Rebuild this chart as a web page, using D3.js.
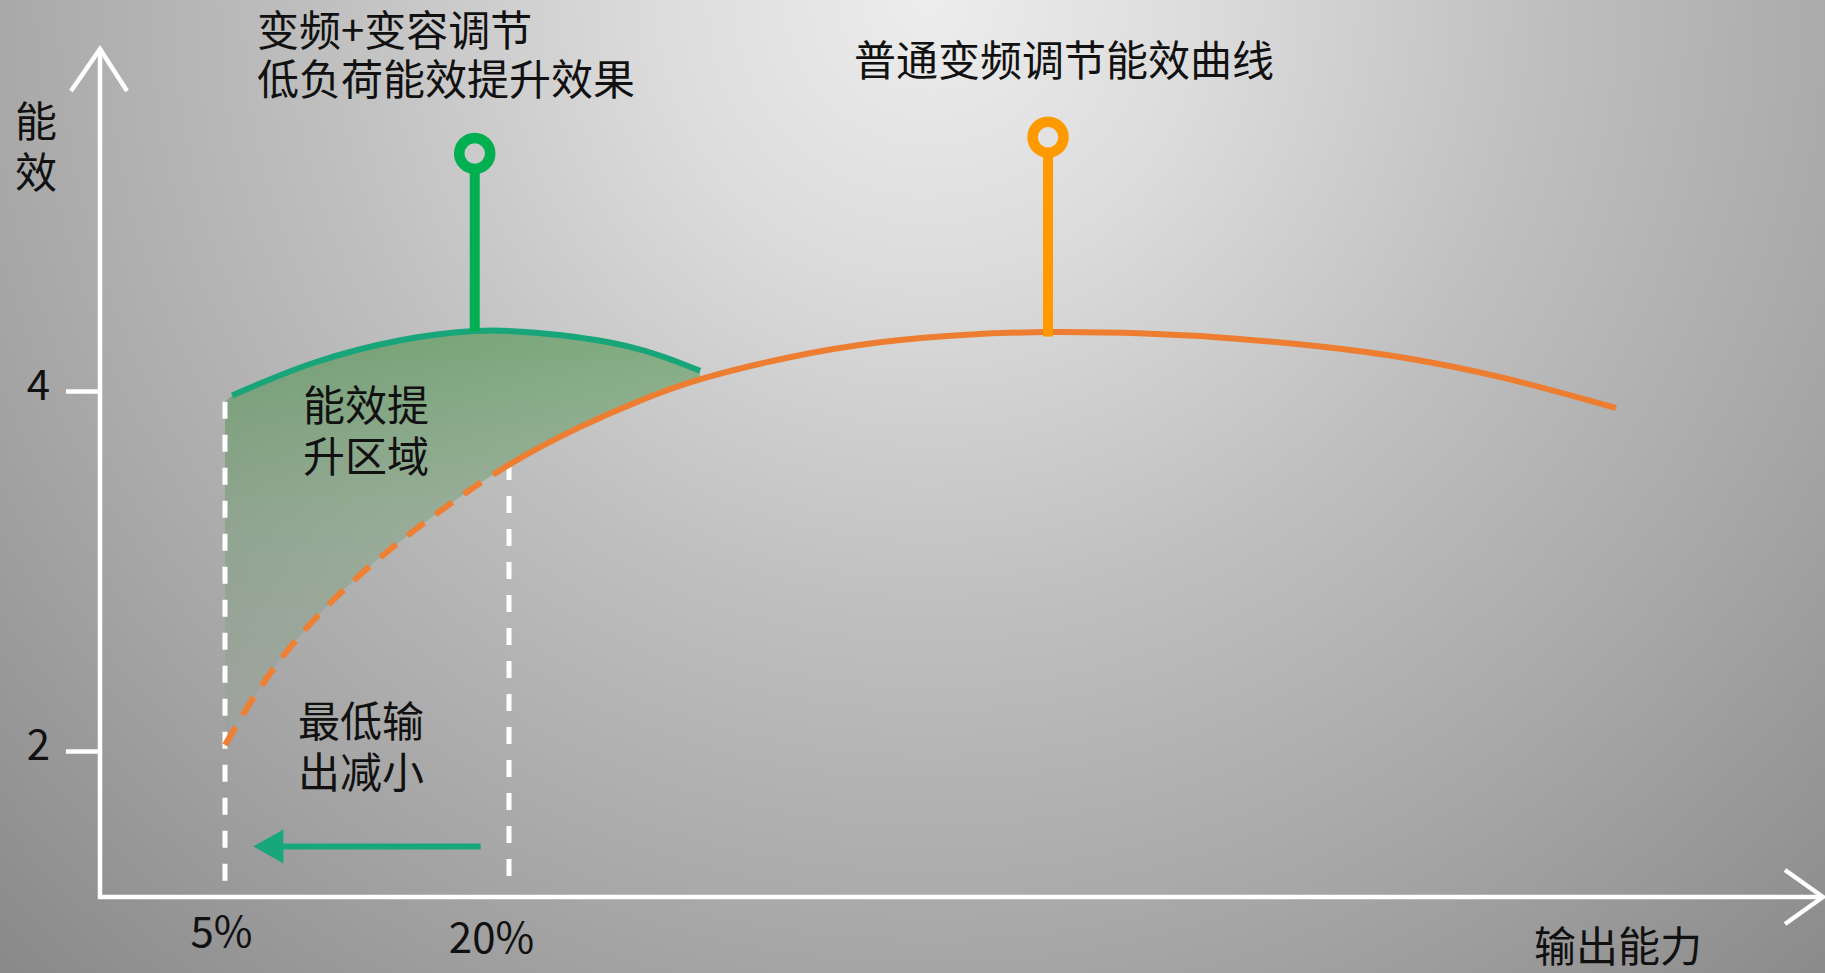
<!DOCTYPE html>
<html><head><meta charset="utf-8">
<script src="https://cdn.jsdelivr.net/npm/d3@7"></script>
<style>html,body{margin:0;padding:0;overflow:hidden;background:#aaa}</style>
</head><body>
<svg id="chart" width="1825" height="973"></svg>
<script>
// ---------- data ----------
const orangeX = [5.00, 6.59, 8.70, 11.29, 14.14, 16.99, 20.00, 23.75, 27.45, 30.09, 34.84, 39.60, 44.25, 48.47, 53.65, 58.40, 63.10, 67.06, 72.34, 78.47];
const orangeY = [2.033, 2.322, 2.622, 2.906, 3.161, 3.383, 3.600, 3.806, 3.972, 4.072, 4.194, 4.278, 4.317, 4.331, 4.322, 4.294, 4.247, 4.194, 4.086, 3.906];
const greenX = [5.38, 9.62, 14.34, 18.19, 21.41, 26.13, 30.09];
const greenY = [3.975, 4.154, 4.283, 4.333, 4.324, 4.252, 4.112];
const dashedSplitX = 20.0;          // orange curve is dashed below this output
const yTickValues = [2, 4];
const xTickValues = [5, 20];
const xTickLabels = ["5%", "20%"];
const markerX = [5, 20];            // white dashed guide lines
const markerTopY = [3.94, 3.60];
const pinNames = ["green", "orange"];
const pinX = [18.19, 48.47];
const pinBaseY = [4.333, 4.331];
const pinTopY = [5.32, 5.41];
const arrowFrom = 18.5, arrowTo = 6.5, arrowLevel = 1.47;
const yAxisTitle = ["能", "效"];
const xAxisTitle = "输出能力";
const title1 = ["变频+变容调节", "低负荷能效提升效果"];
const title2 = "普通变频调节能效曲线";
const regionLabel = ["能效提", "升区域"];
const minLabel = ["最低输", "出减小"];

// ---------- setup ----------
const W = 1825, H = 973;
const originX = 100, axisY = 897, topY = 49, rightX = 1823;
const FONT = "'Noto Sans CJK SC','Microsoft YaHei',sans-serif";
const svg = d3.select("#chart");
const defs = svg.append("defs");

const x = d3.scaleLinear().domain([5, 20]).range([225, 509]);
const y = d3.scaleLinear().domain([2, 4]).range([751, 391]);

// background
const bg = defs.append("radialGradient").attr("id", "bg")
  .attr("gradientUnits", "userSpaceOnUse").attr("cx", 930).attr("cy", 0).attr("r", 1360);
[[0, "#ededed"], [0.2, "#dcdcdc"], [0.45, "#bfbfbf"], [0.7, "#a7a7a7"], [1, "#888888"]]
  .forEach(([o, c]) => bg.append("stop").attr("offset", o).attr("stop-color", c));
svg.append("rect").attr("width", W).attr("height", H).attr("fill", "url(#bg)");

// fill gradient
const fg = defs.append("linearGradient").attr("id", "fillg")
  .attr("gradientUnits", "userSpaceOnUse").attr("x1", 0).attr("x2", 0)
  .attr("y1", y(d3.max(greenY))).attr("y2", y(d3.min(orangeY)));
[[0, 0.54], [0.45, 0.26], [1, 0.03]].forEach(([o, a]) =>
  fg.append("stop").attr("offset", o).attr("stop-color", "rgb(60,140,60)").attr("stop-opacity", a));

const lineO = d3.line().x(d => x(d[0])).y(d => y(d[1])).curve(d3.curveBasis);
const lineG = d3.line().x(d => x(d[0])).y(d => y(d[1])).curve(d3.curveNatural);
const orangePts = orangeX.map((v, i) => [v, orangeY[i]]);
const greenPts = greenX.map((v, i) => [v, greenY[i]]);

// fill region
const gEnd = greenX[greenX.length - 1];
const lowOrange = orangePts.filter(p => p[0] <= gEnd + 0.01).reverse();
const fillPath = "M" + x(markerX[0]) + "," + y(markerTopY[0]) +
  lineG(greenPts).replace(/^M/, "L") + lineO(lowOrange).replace(/^M/, "L") + "Z";
svg.append("path").attr("d", fillPath).attr("fill", "url(#fillg)");

// clip paths for orange split
defs.append("clipPath").attr("id", "clipL").append("rect")
  .attr("x", 0).attr("y", 0).attr("width", x(dashedSplitX)).attr("height", H);
defs.append("clipPath").attr("id", "clipR").append("rect")
  .attr("x", x(dashedSplitX)).attr("y", 0).attr("width", W).attr("height", H);

// white dashed guides
svg.selectAll("line.guide").data(markerX).enter().append("line")
  .attr("class", "guide")
  .attr("x1", d => x(d)).attr("x2", d => x(d))
  .attr("y1", (d, i) => y(markerTopY[i])).attr("y2", axisY - 6)
  .attr("stroke", "#ffffff").attr("stroke-width", 5).attr("stroke-dasharray", "17 16");

// orange curve
svg.append("path").attr("d", lineO(orangePts)).attr("fill", "none")
  .attr("stroke", "#ee7f33").attr("stroke-width", 6).attr("stroke-dasharray", "21 14")
  .attr("clip-path", "url(#clipL)");
svg.append("path").attr("d", lineO(orangePts)).attr("fill", "none")
  .attr("stroke", "#ed7d31").attr("stroke-width", 6)
  .attr("clip-path", "url(#clipR)");

// green curve
svg.append("path").attr("d", lineG(greenPts)).attr("fill", "none")
  .attr("stroke", "#18a57a").attr("stroke-width", 6);

// pins
const pinColor = { green: "#00b050", orange: "#ff9900" };
const pins = svg.selectAll("g.pin").data(pinNames).enter().append("g").attr("class", "pin");
pins.append("line")
  .attr("x1", (d, i) => x(pinX[i])).attr("x2", (d, i) => x(pinX[i]))
  .attr("y1", (d, i) => y(pinBaseY[i]) + (d === "orange" ? 5 : 0))
  .attr("y2", (d, i) => y(pinTopY[i]) + 15)
  .attr("stroke", d => pinColor[d]).attr("stroke-width", 10);
pins.append("circle")
  .attr("cx", (d, i) => x(pinX[i])).attr("cy", (d, i) => y(pinTopY[i]))
  .attr("r", 15.5).attr("fill", "none")
  .attr("stroke", d => pinColor[d]).attr("stroke-width", 10.5);

// green arrow
const ax1 = x(arrowFrom), ax2 = x(arrowTo), ay = y(arrowLevel);
svg.append("line").attr("x1", ax1).attr("x2", ax2 + 25).attr("y1", ay).attr("y2", ay)
  .attr("stroke", "#17a77a").attr("stroke-width", 6);
svg.append("path")
  .attr("d", `M${ax2},${ay}L${ax2 + 30},${ay - 17}L${ax2 + 30},${ay + 17}Z`)
  .attr("fill", "#17a77a");

// axes lines with open arrowheads
const axisG = svg.append("g").attr("stroke", "#ffffff").attr("stroke-width", 4.5)
  .attr("fill", "none").attr("stroke-linecap", "butt");
axisG.append("path").attr("d", `M${originX},${axisY + 2}L${originX},${topY}`);
axisG.append("path").attr("d", `M${originX - 29},${topY + 42}L${originX},${topY}L${originX + 27},${topY + 42}`);
axisG.append("path").attr("d", `M${originX - 2},${axisY}L${rightX},${axisY}`);
axisG.append("path").attr("d", `M${rightX - 38},${axisY - 27}L${rightX},${axisY}L${rightX - 38},${axisY + 27}`);

// y axis ticks
const yAxis = d3.axisLeft(y).tickValues(yTickValues).tickSize(34).tickPadding(16)
  .tickFormat(d3.format("d"));
const yg = svg.append("g").attr("transform", `translate(${originX},0)`).call(yAxis);
yg.select(".domain").remove();
yg.selectAll(".tick line").attr("stroke", "#ffffff").attr("stroke-width", 4.5);
yg.selectAll(".tick text").attr("fill", "#111").style("font-family", FONT).style("font-size", "42px")
  .attr("dy", "0.2em");

// x axis tick labels
const xAxis = d3.axisBottom(x).tickValues(xTickValues).tickSize(0).tickPadding(24)
  .tickFormat((d, i) => xTickLabels[i]);
const xg = svg.append("g").attr("transform", `translate(0,${axisY})`).call(xAxis);
xg.select(".domain").remove();
xg.selectAll(".tick text").attr("fill", "#111").style("font-family", FONT).style("font-size", "42px")
  .attr("dx", (d, i) => i === 0 ? -4 : -18).attr("dy", (d, i) => i === 0 ? "0.62em" : "0.75em");

// texts (multi-line labels as one text element with tspans)
const block = (lines, tx, ty, gap, anchor) => {
  const t = svg.append("text").attr("text-anchor", anchor || "start")
    .attr("fill", "#111").style("font-family", FONT).style("font-size", "42px");
  lines.forEach((s, i) => t.append("tspan").attr("x", tx).attr("y", ty + i * gap).text(s));
  return t;
};
block(yAxisTitle, 36, 137, 51, "middle");
block(title1, 257, 46, 49);
block([title2], 854, 76, 0);
block(regionLabel, 303, 421, 51);
block(minLabel, 298, 737, 51);
block([xAxisTitle], 1534, 962, 0);
</script>
</body></html>
